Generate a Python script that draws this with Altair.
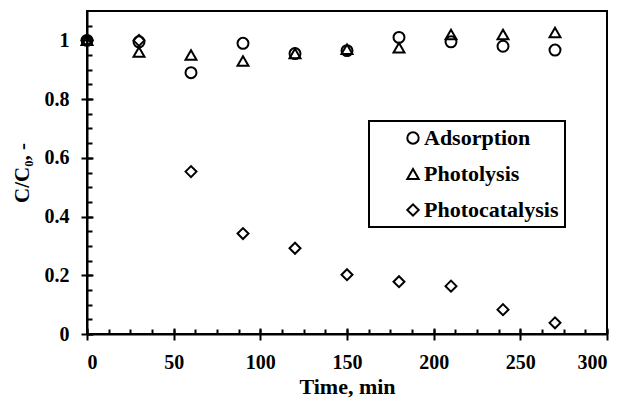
import altair as alt
import pandas as pd

time = [0, 30, 60, 90, 120, 150, 180, 210, 240, 270]
adsorption = [1.0, 0.995, 0.89, 0.99, 0.955, 0.965, 1.01, 0.995, 0.98, 0.967]
photolysis = [1.0, 0.96, 0.95, 0.93, 0.955, 0.97, 0.975, 1.02, 1.02, 1.027]
photocatalysis = [1.0, 1.0, 0.553, 0.342, 0.292, 0.202, 0.178, 0.163, 0.083, 0.038]

series = ["Adsorption", "Photolysis", "Photocatalysis"]
shapes = ["circle", "triangle-up", "diamond"]

x_major = [0, 50, 100, 150, 200, 250, 300]
x_minor = [0, 12.5, 25, 37.5, 50, 62.5, 75, 87.5, 100, 112.5, 125, 137.5, 150,
           162.5, 175, 187.5, 200, 212.5, 225, 237.5, 250, 262.5, 275, 287.5, 300]
y_major = [0, 0.2, 0.4, 0.6, 0.8, 1]
y_minor = [0, 0.05, 0.1, 0.15, 0.2, 0.25, 0.3, 0.35, 0.4, 0.45, 0.5, 0.55, 0.6,
           0.65, 0.7, 0.75, 0.8, 0.85, 0.9, 0.95, 1.0, 1.05]

rows = []
for name, vals in zip(series, [adsorption, photolysis, photocatalysis]):
    for t, v in zip(time, vals):
        rows.append({"time": t, "value": v, "series": name})
df = pd.DataFrame(rows)

FONT = "serif"
xs = alt.Scale(domain=[0, 300], nice=False, zero=False)
ys = alt.Scale(domain=[0, 1.1], nice=False, zero=False)

base = alt.Chart(df)

points = base.mark_point(filled=False, strokeWidth=2, size=120, color="black", opacity=1).encode(
    x=alt.X("time:Q", scale=xs, axis=alt.Axis(
        orient="bottom", values=x_major, format="d", title="Time, min",
        tickSize=6, labelPadding=12, titlePadding=4, grid=False,
        domainColor="black", domainWidth=2, tickColor="black", tickWidth=2,
        labelFont=FONT, labelFontSize=20, labelFontWeight="bold", labelColor="black",
        titleFont=FONT, titleFontSize=22, titleFontWeight="bold", titleColor="black")),
    y=alt.Y("value:Q", scale=ys, axis=alt.Axis(
        orient="left", values=y_major, title="C/C₀, -",
        tickSize=6, labelPadding=12, titlePadding=12, grid=False,
        labelExpr="datum.value == 0 ? '0' : (datum.value == 1 ? '1' : format(datum.value, '.1f'))",
        domainColor="black", domainWidth=2, tickColor="black", tickWidth=2,
        labelFont=FONT, labelFontSize=20, labelFontWeight="bold", labelColor="black",
        titleFont=FONT, titleFontSize=21, titleFontWeight="bold", titleColor="black")),
    shape=alt.Shape("series:N", scale=alt.Scale(domain=series, range=shapes),
                    legend=alt.Legend(
                        title=None, orient="none", legendX=282, legendY=110,
                        symbolOffset=27, padding=6, rowPadding=14,
                        labelOffset=0, symbolSize=130, symbolStrokeWidth=2,
                        symbolStrokeColor="black", symbolFillColor="transparent",
                        labelFont=FONT, labelFontSize=22, labelFontWeight="bold",
                        labelLimit=300, labelColor="black", strokeColor="black")),
)

inner_major = base.mark_point(opacity=0).encode(
    x=alt.X("time:Q", scale=xs, axis=alt.Axis(
        orient="bottom", values=x_major, labels=False, domain=False, title=None,
        tickSize=6, offset=-6, tickColor="black", tickWidth=2, grid=False)),
    y=alt.Y("value:Q", scale=ys, axis=alt.Axis(
        orient="left", values=y_major, labels=False, domain=False, title=None,
        tickSize=6, offset=-6, tickColor="black", tickWidth=2, grid=False)),
)

inner_minor = base.mark_point(opacity=0).encode(
    x=alt.X("time:Q", scale=xs, axis=alt.Axis(
        orient="bottom", values=x_minor, labels=False, domain=False, title=None,
        tickSize=5, offset=-5, tickColor="black", tickWidth=2, grid=False)),
    y=alt.Y("value:Q", scale=ys, axis=alt.Axis(
        orient="left", values=y_minor, labels=False, domain=False, title=None,
        tickSize=5, offset=-5, tickColor="black", tickWidth=2, grid=False)),
)

chart = alt.layer(inner_minor, inner_major, points).resolve_axis(
    x="independent", y="independent"
).properties(
    width=520, height=323,
    autosize=alt.AutoSizeParams(type="none"),
    padding={"left": 79, "top": 3, "right": 12, "bottom": 70},
    background="white",
).configure_view(
    stroke="black", strokeWidth=2
).configure_legend(
    strokeWidth=2
)

chart.save("out.html", embed_options={"renderer": "svg", "actions": False})
